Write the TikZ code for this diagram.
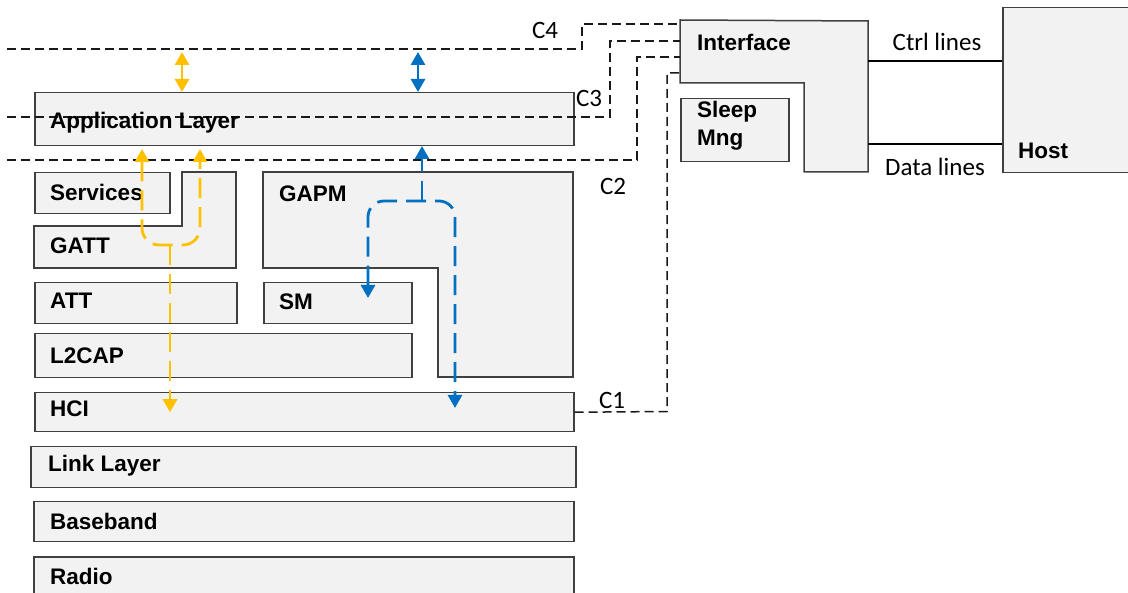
\documentclass[tikz,border=0pt]{standalone}
\usepackage{fontspec}
\setmainfont{Liberation Sans}
\newfontfamily\califont{Carlito}
\usetikzlibrary{arrows.meta}
\definecolor{boxfill}{HTML}{F2F2F2}
\definecolor{boxline}{HTML}{404040}
\definecolor{gold}{HTML}{FFC000}
\definecolor{msblue}{HTML}{0070C0}
\tikzset{
 layerbox/.style={draw=boxline, fill=boxfill, line width=1.5pt, rectangle, inner sep=0pt, anchor=north west},
 shapebox/.style={draw=boxline, fill=boxfill, line width=1.5pt},
 lbl/.style={font=\fontsize{22.5}{26}\selectfont\bfseries, anchor=west, inner sep=0pt, align=left},
 clbl/.style={font=\fontsize{25}{27}\selectfont\califont, inner sep=0pt},
 conn/.style={draw=black!90, line width=1.5pt, dash pattern=on 9pt off 5pt},
 wire/.style={draw=black, line width=1.2pt},
 tipk/.tip={Triangle[length=13pt,width=14pt]},
 goldsolid/.style={draw=gold, line width=2.8pt, tipk-tipk},
 bluesolid/.style={draw=msblue, line width=2.8pt, tipk-tipk},
 golddash/.style={draw=gold, line width=2.8pt, dash pattern=on 20pt off 9pt},
 bluedash/.style={draw=msblue, line width=2.8pt, dash pattern=on 20pt off 9pt},
}
\begin{document}
\begin{tikzpicture}[x=1pt,y=-1pt]
\useasboundingbox (0,0) rectangle (1128,593);

% ---- left stack boxes
\node[layerbox, minimum width=539pt, minimum height=53pt] (app) at (34,92) {};
\node[layerbox, minimum width=135pt, minimum height=41pt] (services) at (34,172) {};
\draw[shapebox] (34,226) -- (182,226) -- (182,172) -- (236,172) -- (236,268) -- (34,268) -- cycle;
\draw[shapebox] (263,172) -- (573,172) -- (573,377) -- (438,377) -- (438,268) -- (263,268) -- cycle;
\node[layerbox, minimum width=202pt, minimum height=41pt] (att) at (34,282) {};
\node[layerbox, minimum width=148pt, minimum height=41pt] (sm) at (263,282) {};
\node[layerbox, minimum width=377pt, minimum height=44pt] (l2cap) at (34,333) {};
\node[layerbox, minimum width=539pt, minimum height=39pt] (hci) at (34,392) {};
\node[layerbox, minimum width=545pt, minimum height=41pt] (link) at (30,446) {};
\node[layerbox, minimum width=540pt, minimum height=40pt] (baseband) at (33,501) {};
\node[layerbox, minimum width=540pt, minimum height=60pt] (radio) at (33,556) {};

% ---- right side
\draw[shapebox] (680,20) -- (868,21) -- (868,172) -- (804,172) -- (804,83) -- (680,83) -- cycle;
\node[layerbox, minimum width=108pt, minimum height=63pt] (sleep) at (680,98) {};
\node[layerbox, minimum width=140pt, minimum height=165pt] (host) at (1002,7) {};

% interface anchor coordinates
\coordinate (if4) at (680,24);
\coordinate (if3) at (680,41);
\coordinate (if2) at (680,57);
\coordinate (if1) at (680,73);
\coordinate (ifctrl) at (868,61);
\coordinate (ifdata) at (868,144);
\coordinate (c4s) at (7,49);
\coordinate (c3s) at (7,117);
\coordinate (c2s) at (7,160);

% ---- dashed connections
\draw[conn] (c4s) -- (582,49) -- (582,24) -- (if4);
\draw[conn] (c3s) -- (610,117) -- (610,41) -- (if3);
\draw[conn] (c2s) -- (637,160) -- (637,57) -- (if2);
\draw[conn] (hci.east) -- (667,411.5) -- (667,73) -- (if1);

% ---- host wires
\draw[wire] (ifctrl) -- (ifctrl -| host.west);
\draw[wire] (ifdata) -- (ifdata -| host.west);

% ---- labels
\node[lbl] at (50,123) {Application Layer};
\node[lbl] at (50,192) {Services};
\node[lbl] at (50,246) {GATT};
\node[lbl] at (50,301) {ATT};
\node[lbl] at (50,356) {L2CAP};
\node[lbl] at (50,409) {HCI};
\node[lbl] at (48,466) {Link Layer};
\node[lbl] at (50,521) {Baseband};
\node[lbl] at (50,576) {Radio};
\node[lbl] at (279,194) {GAPM};
\node[lbl] at (279,302) {SM};
\node[lbl] at (697,42) {Interface};
\node[lbl] at (697,112) {Sleep};
\node[lbl] at (697,140) {Mng};
\node[lbl] at (1018,151) {Host};

\node[clbl] at (545,30) {C4};
\node[clbl] at (589,98) {C3};
\node[clbl] at (613,186) {C2};
\node[clbl] at (612,400) {C1};
\node[clbl] at (937,42) {Ctrl lines};
\node[clbl] at (935,167) {Data lines};

% ---- flow arrows
\coordinate (gtop) at (182,52);
\coordinate (btop) at (418,52);
\draw[goldsolid] (gtop) -- (gtop |- app.north);
\draw[bluesolid] (btop) -- (btop |- app.north);

\coordinate (gj) at (170,245);
\coordinate (bj) at (422,201);
\draw[golddash, rounded corners=17pt, tipk-tipk] (142,149) -- (142,245) -- (200,245) -- (200,149);
\draw[golddash, -tipk] (gj) -- (gj |- hci.center);
\draw[bluedash, rounded corners=16pt, tipk-tipk] (368,298) -- (368,201) -- (455,201) -- (455,408);
\draw[bluedash, -tipk] (bj) -- (422,146);
\end{tikzpicture}
\end{document}
